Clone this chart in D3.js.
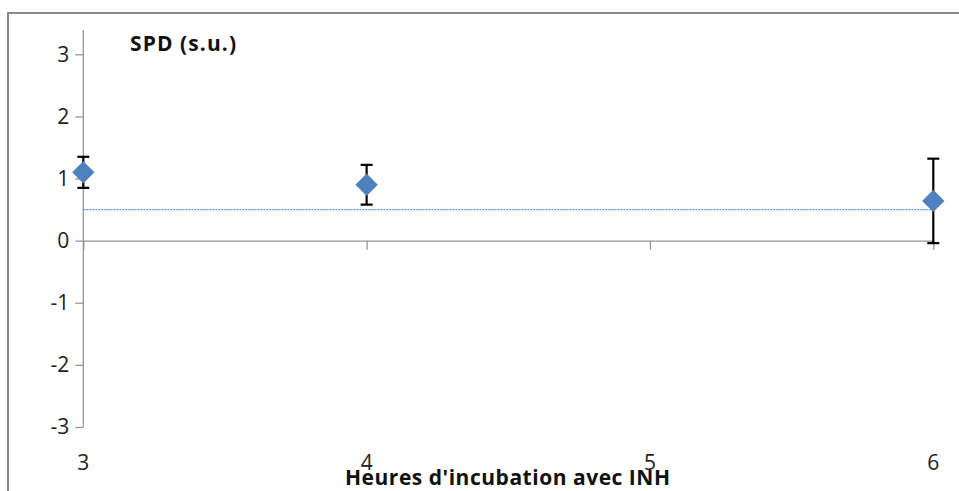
<!DOCTYPE html>
<html>
<head>
<meta charset="utf-8">
<script src="https://cdn.jsdelivr.net/npm/d3@7"></script>
<style>
  html, body { margin: 0; padding: 0; background: #fff; }
  svg { display: block; }
</style>
</head>
<body>
<svg id="chart" width="959" height="491"></svg>
<script>
// Incubation hours and measured SPD values with their error margins
const hours = [3, 4, 6];
const spd = [1.1, 0.9, 0.64];
const spdErr = [0.25, 0.32, 0.68];
const thresholdValue = 0.5;
const xTicks = [3, 4, 5, 6];
const yTicks = [-3, -2, -1, 0, 1, 2, 3];

const svg = d3.select("#chart");
const W = 959, H = 491;
const font = "'Open Sans', 'Noto Sans', sans-serif";

// outer chart frame
svg.append("rect")
  .attr("x", 8).attr("y", 13)
  .attr("width", W + 10).attr("height", H + 10)
  .attr("fill", "#fff")
  .attr("stroke", "#8a8a8a")
  .attr("stroke-width", 2);

const x = d3.scaleLinear().domain([3, 6]).range([83.3, 933.3]);
const y = d3.scaleLinear().domain([-3, 3]).range([427, 54.3]);

// y axis
const yAxis = svg.append("g")
  .attr("transform", `translate(${x(3)},0)`)
  .call(d3.axisLeft(y).tickValues(yTicks).tickSize(8).tickSizeOuter(0)
    .tickFormat(d => d < 0 ? "-" + Math.abs(d) : d));
yAxis.select(".domain").remove();
yAxis.append("line")
  .attr("x1", 0).attr("x2", 0)
  .attr("y1", 30).attr("y2", y(-3))
  .attr("stroke", "#969696").attr("stroke-width", 1.3);
yAxis.selectAll(".tick line").attr("stroke", "#969696").attr("stroke-width", 1.3);
yAxis.selectAll(".tick text")
  .attr("x", -14)
  .attr("fill", "#222")
  .style("font-family", font)
  .style("font-size", "21px");

// x axis crossing at zero
const xAxis = svg.append("g")
  .attr("transform", `translate(0,${y(0)})`)
  .call(d3.axisBottom(x).tickValues(xTicks).tickSize(9).tickSizeOuter(0).tickFormat(d3.format("d")));
xAxis.select(".domain").attr("stroke", "#969696").attr("stroke-width", 1.3);
xAxis.selectAll(".tick line").attr("stroke", "#969696").attr("stroke-width", 1.3);
xAxis.selectAll(".tick text").remove();

// x tick labels sit along the bottom of the chart
svg.append("g").selectAll("text")
  .data(xTicks)
  .join("text")
  .attr("x", d => x(d))
  .attr("y", 470)
  .attr("text-anchor", "middle")
  .attr("fill", "#222")
  .style("font-family", font)
  .style("font-size", "21px")
  .text(d => d);

// reference level
svg.append("line")
  .attr("x1", x(3)).attr("x2", x(6))
  .attr("y1", y(thresholdValue)).attr("y2", y(thresholdValue))
  .attr("stroke", "#5a8fd6")
  .attr("stroke-width", 1.2)
  .attr("stroke-dasharray", "2,1");

// error bars
const pts = hours.map((h, i) => ({ h, v: spd[i], e: spdErr[i] }));
const eb = svg.append("g").selectAll("g").data(pts).join("g");
eb.append("line")
  .attr("x1", d => x(d.h)).attr("x2", d => x(d.h))
  .attr("y1", d => y(d.v + d.e)).attr("y2", d => y(d.v - d.e))
  .attr("stroke", "#000").attr("stroke-width", 2.2);
eb.selectAll("line.cap")
  .data(d => [d.v + d.e, d.v - d.e].map(v => ({ h: d.h, v })))
  .join("line")
  .attr("class", "cap")
  .attr("x1", d => x(d.h) - 6).attr("x2", d => x(d.h) + 6)
  .attr("y1", d => y(d.v)).attr("y2", d => y(d.v))
  .attr("stroke", "#000").attr("stroke-width", 2.2);

// diamond markers
const diamond = d3.symbol().type(d3.symbolSquare).size(250);
svg.append("g").selectAll("path")
  .data(pts)
  .join("path")
  .attr("d", diamond)
  .attr("transform", d => `translate(${x(d.h)},${y(d.v)}) rotate(45)`)
  .attr("fill", "#4f81bd");

// axis titles
svg.append("text")
  .attr("x", 130).attr("y", 51)
  .attr("fill", "#111")
  .style("font-family", font)
  .style("font-size", "21px")
  .style("font-weight", "bold")
  .attr("textLength", 106)
  .text("SPD (s.u.)");

svg.append("text")
  .attr("x", 345).attr("y", 485)
  .attr("fill", "#111")
  .style("font-family", font)
  .style("font-size", "21px")
  .style("font-weight", "bold")
  .attr("textLength", 325)
  .text("Heures d'incubation avec INH");
</script>
</body>
</html>
